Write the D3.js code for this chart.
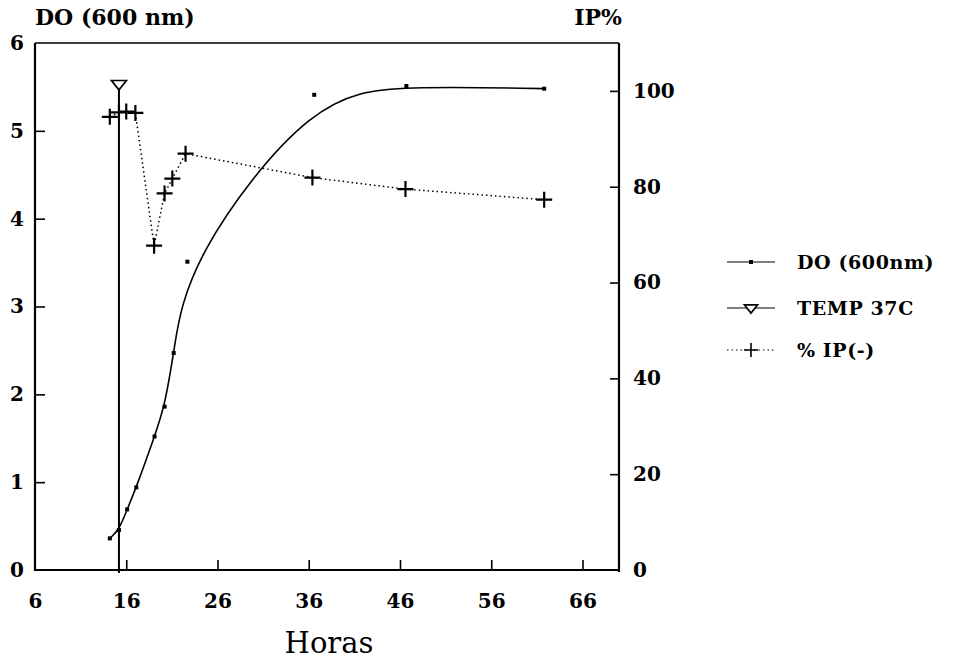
<!DOCTYPE html>
<html>
<head>
<meta charset="utf-8">
<script src="https://cdn.jsdelivr.net/npm/d3@7"></script>
<style>
  html, body { margin: 0; padding: 0; background: #fff; }
  svg { display: block; }
  text { fill: #000; }
</style>
</head>
<body>
<svg id="chart" width="957" height="660"></svg>
<script>
// Culture time course: optical density, temperature shift and % IP(-)
const doHours   = [14.2, 15.2, 16.1, 17.1, 19.1, 20.2, 21.2, 22.7, 36.6, 46.7, 61.8];
const doValues  = [0.36, 0.455, 0.69, 0.94, 1.52, 1.86, 2.47, 3.51, 5.41, 5.51, 5.48];

const ipHours   = [14.2, 15.2, 16.0, 17.0, 19.05, 20.2, 21.05, 22.5, 36.4, 46.6, 61.8];
const ipValues  = [94.6, 95.5, 95.7, 95.4, 67.7, 78.6, 81.7, 86.9, 81.9, 79.5, 77.3];

const tempHours  = [15.2];
const tempValues = [5.52];

const xTicks      = [6, 16, 26, 36, 46, 56, 66];
const yLeftTicks  = [0, 1, 2, 3, 4, 5, 6];
const yRightTicks = [0, 20, 40, 60, 80, 100];

const legendLabels = ["DO (600nm)", "TEMP 37C", "% IP(-)"];

const svg = d3.select("#chart");
const L = 35, R = 619, T = 43, B = 570;

const x  = d3.scaleLinear().domain([6, 70]).range([L, R]);
const yL = d3.scaleLinear().domain([0, 6]).range([B, T]);
const yR = d3.scaleLinear().domain([0, 110]).range([B, T]);

const tickFont = "'DejaVu Serif', serif";

// frame: thin top border, heavy left / bottom / right axes
svg.append("line").attr("x1", L).attr("x2", R).attr("y1", T).attr("y2", T)
  .attr("stroke", "#000").attr("stroke-width", 1.3);

function styleAxis(g) {
  g.select(".domain").remove();
  g.selectAll(".tick line").attr("stroke", "#000").attr("stroke-width", 1.6);
  g.selectAll(".tick text")
    .attr("font-family", tickFont).attr("font-weight", "bold")
    .attr("font-size", 20).attr("fill", "#000");
}

// bottom axis, ticks pointing inward
const gx = svg.append("g").attr("transform", `translate(0,${B})`)
  .call(d3.axisBottom(x).tickValues(xTicks).tickSize(-10).tickPadding(24).tickFormat(d3.format("d")));
styleAxis(gx);
gx.selectAll(".tick").filter(d => d === 6).select("line").remove();

// left axis
const gl = svg.append("g").attr("transform", `translate(${L},0)`)
  .call(d3.axisLeft(yL).tickValues(yLeftTicks).tickSize(-10).tickPadding(11).tickFormat(d3.format("d")));
styleAxis(gl);
gl.selectAll(".tick").filter(d => d === 0 || d === 6).select("line").remove();

// right axis
const gr = svg.append("g").attr("transform", `translate(${R},0)`)
  .call(d3.axisRight(yR).tickValues(yRightTicks).tickSize(-9).tickPadding(14).tickFormat(d3.format("d")));
styleAxis(gr);
gr.selectAll(".tick").filter(d => d === 0).select("line").remove();

svg.append("line").attr("x1", L).attr("x2", L).attr("y1", T).attr("y2", B + 1)
  .attr("stroke", "#000").attr("stroke-width", 2.2);
svg.append("line").attr("x1", L).attr("x2", R).attr("y1", B).attr("y2", B)
  .attr("stroke", "#000").attr("stroke-width", 2);
svg.append("line").attr("x1", R).attr("x2", R).attr("y1", T).attr("y2", B + 2)
  .attr("stroke", "#000").attr("stroke-width", 2.2);

// axis titles
svg.append("text").attr("x", L).attr("y", 25)
  .attr("font-family", tickFont).attr("font-weight", "bold").attr("font-size", 22)
  .text("DO (600 nm)");
svg.append("text").attr("x", 622).attr("y", 25).attr("text-anchor", "end")
  .attr("font-family", tickFont).attr("font-weight", "bold").attr("font-size", 22)
  .text("IP%");
svg.append("text").attr("x", 329).attr("y", 653).attr("text-anchor", "middle")
  .attr("font-family", tickFont).attr("font-size", 29)
  .text("Horas");

// TEMP 37C: drop line from the marker to the baseline
const tempData = tempHours.map((h, i) => ({ h, v: tempValues[i] }));
svg.selectAll(".temp-stem").data(tempData).enter().append("line")
  .attr("x1", d => x(d.h)).attr("x2", d => x(d.h))
  .attr("y1", d => yL(d.v)).attr("y2", B + 3)
  .attr("stroke", "#000").attr("stroke-width", 2);

function triangle(sel, s) {
  return sel.attr("d", `M${-s},${-s * 0.62}L${s},${-s * 0.62}L0,${s * 0.62}Z`)
    .attr("fill", "#fff").attr("stroke", "#000").attr("stroke-width", 1.7);
}
svg.selectAll(".temp-mark").data(tempData).enter().append("path")
  .attr("transform", d => `translate(${x(d.h)},${yL(d.v)})`)
  .call(triangle, 7.5);

// DO (600nm): smoothed curve through the readings
const doData = doHours.map((h, i) => ({ h, v: doValues[i] }));
const doLine = d3.line().x(d => x(d.h)).y(d => yL(d.v)).curve(d3.curveBasis);
svg.append("path").datum(doData).attr("d", doLine)
  .attr("fill", "none").attr("stroke", "#000").attr("stroke-width", 1.6);
svg.selectAll(".do-dot").data(doData).enter().append("rect")
  .attr("x", d => x(d.h) - 2).attr("y", d => yL(d.v) - 2)
  .attr("width", 4).attr("height", 4).attr("fill", "#000");

// % IP(-): dotted polyline with cross markers
const ipData = ipHours.map((h, i) => ({ h, v: ipValues[i] }));
const ipLine = d3.line().x(d => x(d.h)).y(d => yR(d.v));
svg.append("path").datum(ipData).attr("d", ipLine)
  .attr("fill", "none").attr("stroke", "#000").attr("stroke-width", 1.5)
  .attr("stroke-dasharray", "1.5,3");

function cross(sel, s, w) {
  return sel.attr("d", `M${-s},0L${s},0M0,${-s}L0,${s}`)
    .attr("fill", "none").attr("stroke", "#000").attr("stroke-width", w);
}
svg.selectAll(".ip-mark").data(ipData).enter().append("path")
  .attr("transform", d => `translate(${x(d.h)},${yR(d.v)})`)
  .call(cross, 8, 2.2);

// legend
const legY = [262, 308, 350];
const lx1 = 727, lx2 = 775, lxm = 751;
const leg = svg.append("g");
legendLabels.forEach((lab, i) => {
  const y = legY[i];
  const ln = leg.append("line").attr("x1", lx1).attr("x2", lx2).attr("y1", y).attr("y2", y)
    .attr("stroke", "#000").attr("stroke-width", 1.2);
  if (i === 0) {
    leg.append("rect").attr("x", lxm - 2).attr("y", y - 2).attr("width", 4).attr("height", 4).attr("fill", "#000");
  } else if (i === 1) {
    leg.append("path").attr("transform", `translate(${lxm},${y + 1})`).call(triangle, 6.5);
  } else {
    ln.attr("stroke-dasharray", "1.5,3");
    leg.append("path").attr("transform", `translate(${lxm},${y})`).call(cross, 7, 1.6);
  }
  leg.append("text").attr("x", 797).attr("y", y).attr("dy", "0.35em")
    .attr("font-family", tickFont).attr("font-weight", "bold").attr("font-size", 19)
    .attr("letter-spacing", 0.6)
    .text(lab);
});
</script>
</body>
</html>
